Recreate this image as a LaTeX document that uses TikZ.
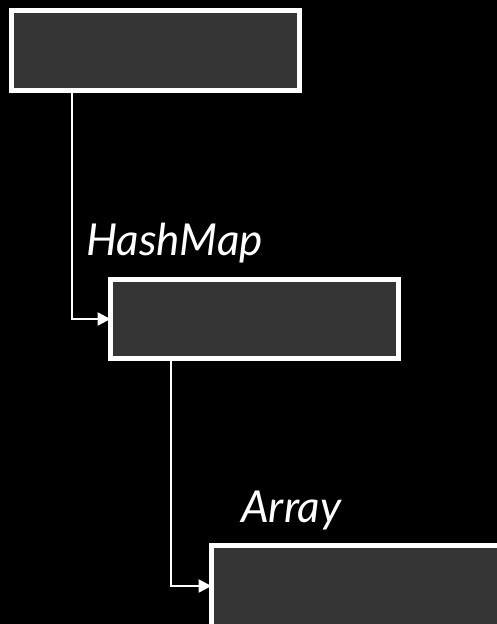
\documentclass[tikz,border=0pt]{standalone}
\usepackage{fontspec}
\setmainfont{Lato}
\usetikzlibrary{arrows.meta}
\definecolor{boxfill}{HTML}{353535}
\tikzset{
  box/.style={rectangle, draw=white, line width=5pt, fill=boxfill,
    anchor=north west, inner sep=0pt, outer sep=0pt},
  conn/.style={draw=white, line width=2.4pt,
    -{Triangle[length=13pt,width=13pt]}},
  lbl/.style={text=white, font=\itshape\fontsize{44}{44}\selectfont,
    anchor=base west, inner sep=0pt}
}
\begin{document}
\begin{tikzpicture}[x=1pt, y=-1pt]
  \fill[black] (0,0) rectangle (497,624);
  \useasboundingbox (0,0) rectangle (497,624);
  \begin{scope}
    \clip (0,0) rectangle (497,624);
    \node[box, minimum width=288pt, minimum height=80pt] (a) at (11.5,10.5) {};
    \node[box, minimum width=288pt, minimum height=79pt] (b) at (110.5,279.5) {};
    \node[box, minimum width=320pt, minimum height=120pt] (c) at (211.5,545.5) {};
    \node[lbl] (hm) at (86,255) {HashMap};
    \node[lbl] (ar) at (241,522) {Array};
    \draw[conn] ([xshift=60.5pt]a.south west) |- (b.west);
    \draw[conn] ([xshift=60.5pt]b.south west) |- ([yshift=-40.5pt]c.north west);
  \end{scope}
\end{tikzpicture}
\end{document}
